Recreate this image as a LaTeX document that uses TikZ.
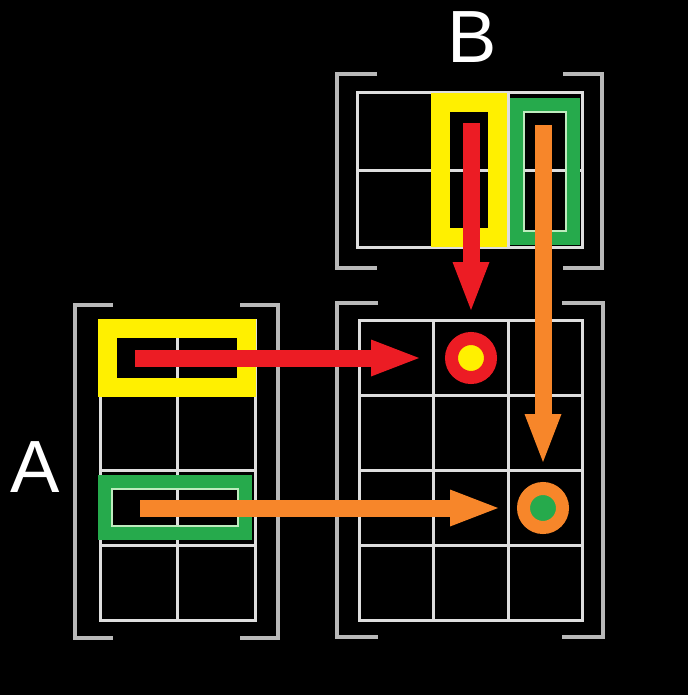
\documentclass[tikz,border=0pt]{standalone}
\usepackage{fontspec}
\setmainfont{Liberation Sans}
\usetikzlibrary{arrows.meta}
\definecolor{cred}{RGB}{236,28,36}
\definecolor{corange}{RGB}{247,134,42}
\definecolor{cyellow}{RGB}{255,240,0}
\definecolor{cgreen}{RGB}{38,170,76}
\definecolor{cpale}{RGB}{190,235,190}
\definecolor{cgrid}{RGB}{222,222,222}
\definecolor{cbracket}{RGB}{185,185,185}
\begin{document}
\begin{tikzpicture}[x=1pt,y=-1pt,
 gridline/.style={draw=cgrid,line width=3pt},
 bracket/.style={draw=cbracket,line width=4pt},
 yframe/.style={draw=cyellow,line width=19pt},
 gframe/.style={draw=cgreen,line width=13pt},
 ginner/.style={draw=cpale,line width=2pt},
 bigarrow/.style={line width=17pt,-{Triangle[length=48pt,width=37pt,line width=0pt]}},
 dot/.style={circle,minimum size=39pt,inner sep=0pt,line width=13pt},
 lab/.style={text=white,font=\fontsize{74}{74}\selectfont,inner sep=0pt}]
\fill[black] (0,0) rectangle (688,695);
\useasboundingbox (0,0) rectangle (688,695);

% grids
\draw[gridline] (100,320) rectangle (255,620);
\draw[gridline] (177,320) -- (177,620);
\foreach \y in {395,470,545} \draw[gridline] (100,\y) -- (255,\y);

\draw[gridline] (359,320) rectangle (582,620);
\foreach \x in {433,508} \draw[gridline] (\x,320) -- (\x,620);
\foreach \y in {395,470,545} \draw[gridline] (359,\y) -- (582,\y);

\draw[gridline] (357,93) rectangle (582,247);
\foreach \x in {433,508} \draw[gridline] (\x,93) -- (\x,247);
\draw[gridline] (357,170) -- (582,170);

% brackets
\draw[bracket] (113,305) -- (75,305) -- (75,638) -- (113,638);
\draw[bracket] (240,305) -- (278,305) -- (278,638) -- (240,638);
\draw[bracket] (378,303) -- (337,303) -- (337,637) -- (378,637);
\draw[bracket] (562,303) -- (603,303) -- (603,637) -- (562,637);
\draw[bracket] (377,74) -- (337,74) -- (337,268) -- (377,268);
\draw[bracket] (563,74) -- (602,74) -- (602,268) -- (563,268);

% frames
\draw[yframe] (107,328.5) rectangle (246,387.5);
\draw[gframe] (104.5,481.5) rectangle (245.5,533.5);
\draw[ginner] (112,489) rectangle (238,526);
\draw[yframe] (440,102.5) rectangle (497.5,237.5);
\draw[gframe] (516.5,104.5) rectangle (573.5,238.5);
\draw[ginner] (524,112) rectangle (566,231);

% targets
\node[dot,draw=cred,fill=cyellow] (c1) at (471,358) {};
\node[dot,draw=corange,fill=cgreen] (c2) at (543,508) {};

\coordinate (sA1) at (135,358);
\coordinate (sA2) at (140,508);
\coordinate (sB1) at (471,123);
\coordinate (sB2) at (543,125);

\draw[bigarrow,cred,shorten >=26pt] (sA1) -- (c1);
\draw[bigarrow,cred,shorten >=22pt] (sB1) -- (c1);
\draw[bigarrow,corange,shorten >=20pt] (sB2) -- (c2);
\draw[bigarrow,corange,shorten >=19pt] (sA2) -- (c2);

\node[lab] (labA) at (35,467) {A};
\node[lab] (labB) at (472,37) {B};
\end{tikzpicture}
\end{document}
